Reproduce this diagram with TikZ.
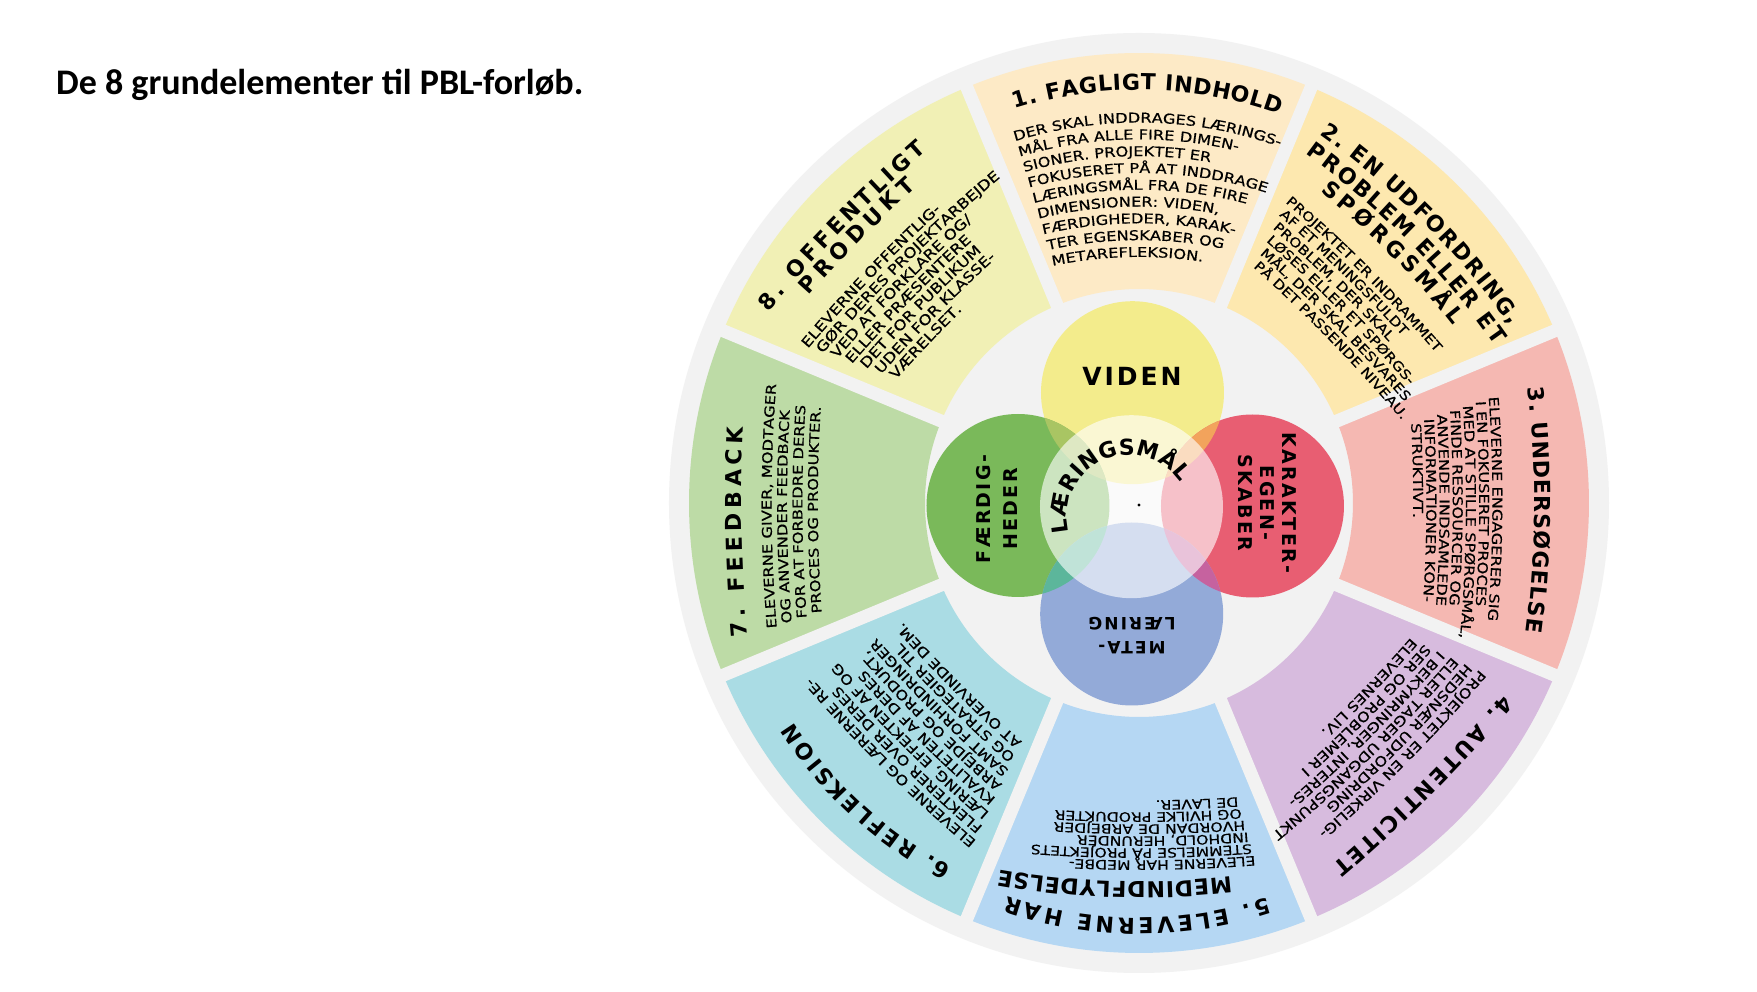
\documentclass[tikz,border=0pt]{standalone}
\usepackage{fontspec}
\usetikzlibrary{decorations.text}
\newfontfamily\headf{Carlito}
\newfontfamily\titlef{DejaVu Sans}
\newfontfamily\bodyf{DejaVu Sans}[FakeStretch=1.2,FakeBold=0.6]
\newfontfamily\circf{DejaVu Sans}[LetterSpace=12]
\definecolor{bggray}{HTML}{F2F2F2}
\definecolor{secA}{HTML}{FDEAC6}
\definecolor{secB}{HTML}{FDE8AF}
\definecolor{secC}{HTML}{F5B8B2}
\definecolor{secD}{HTML}{D7BBDE}
\definecolor{secE}{HTML}{B5D7F3}
\definecolor{secF}{HTML}{AADCE4}
\definecolor{secG}{HTML}{BDDBA6}
\definecolor{secH}{HTML}{F1F0B5}
\definecolor{cyel}{HTML}{F3EC8C}
\definecolor{cgrn}{HTML}{7AB95A}
\definecolor{cred}{HTML}{E85E72}
\definecolor{cblu}{HTML}{93AAD8}
\definecolor{cyg}{HTML}{A9C563}
\definecolor{cyr}{HTML}{F2A35C}
\definecolor{cgb}{HTML}{5CB69B}
\definecolor{crb}{HTML}{C6629F}
\newcommand\titlefmt{\titlef\bfseries\fontsize{22}{26}\selectfont}
% #1 curvature radius, #2 radius at middle, #3 start t, #4 end t, #5 align, #6 text
\newcommand\arcline[6]{%
  \pgfmathsetmacro\phA{acos((#3)/(#1))}%
  \pgfmathsetmacro\phB{acos((#4)/(#1))}%
  \pgfmathsetmacro\yA{(#2)-(#1)+(#1)*sin(\phA)}%
  \path[decorate,decoration={text along path,text align={#5},text={#6}}]
    (#3,\yA) arc[start angle=\phA,end angle=\phB,radius=#1pt];%
}
\newcommand\bodyline[2]{%
  \pgfmathsetmacro\myR{\sRz-\sDr*(#1)}%
  \pgfmathsetmacro\myT{\sTz+\sDt*(#1)}%
  \ifdim\sRc pt<1pt\let\myC\myR\else\let\myC\sRc\fi
  \arcline{\myC}{\myR}{\myT}{\myT+330}{left}{|\curfmt|#2}%
}
\begin{document}
\begin{tikzpicture}[x=1pt,y=1pt,
  circtxt/.style={inner sep=0pt, align=center}]
\useasboundingbox (-1139,-489) rectangle (618,503);
\fill[white] (-1139,-489) rectangle (618,503);
\node[anchor=base west, inner sep=0pt, font=\headf\bfseries\fontsize{36}{40}\selectfont] (title) at (-1083,408) {De 8 grundelementer til PBL-forløb.};
% wheel
\fill[bggray] (0,0) circle[radius=470pt];
\foreach \a/\c in {90/secA,45/secB,0/secC,-45/secD,-90/secE,-135/secF,180/secG,135/secH}{
  \fill[\c] ({\a-22.5}:214pt) arc[start angle={\a-22.5}, end angle={\a+22.5}, radius=214pt]
     -- ({\a+22.5}:450pt) arc[start angle={\a+22.5}, end angle={\a-22.5}, radius=450pt] -- cycle;
}
\foreach \a in {22.5,67.5,...,337.5}{\draw[bggray, line width=13pt] (\a:200pt) -- (\a:462pt);}
% circles
\coordinate (cY) at (-6.5,110.3);
\coordinate (cG) at (-121,-2.5);
\coordinate (cR) at (113.5,-3);
\coordinate (cB) at (-7.3,-111);
\coordinate (cC) at (-7.5,-3.7);
\fill[cyel] (cY) circle[radius=91.5pt];
\fill[cgrn] (cG) circle[radius=91.5pt];
\fill[cred] (cR) circle[radius=91.5pt];
\fill[cblu] (cB) circle[radius=91.5pt];
\begin{scope}
  \clip (cY) circle[radius=91.5pt];
  \fill[cyg] (cG) circle[radius=91.5pt];
  \fill[cyr] (cR) circle[radius=91.5pt];
\end{scope}
\begin{scope}
  \clip (cB) circle[radius=91.5pt];
  \fill[cgb] (cG) circle[radius=91.5pt];
  \fill[crb] (cR) circle[radius=91.5pt];
\end{scope}
\fill[white, fill opacity=0.62] (cC) circle[radius=91.5pt];
\node[circtxt, font=\circf\bfseries\fontsize{25}{28}\selectfont] (viden) at (-7,127) {VIDEN};
\node[circtxt, rotate=90, font=\circf\bfseries\fontsize{19}{27}\selectfont] (faerd) at (-142,-6) {FÆRDIG-\\HEDER};
\node[circtxt, rotate=-90, font=\circf\bfseries\fontsize{19}{22}\selectfont] (karak) at (128,0) {KARAKTER-\\EGEN-\\SKABER};
\node[circtxt, rotate=180, font=\circf\bfseries\fontsize{17}{24}\selectfont] (meta) at (-7,-133) {META-\\LÆRING};
\path[decorate, decoration={text along path, text align={fit to path}, text={|\titlef\bfseries\fontsize{22}{22}\selectfont|LÆRINGSMÅL}}]
  ([shift={(-10,-14)}]194:62pt) arc[start angle=194, end angle=34, radius=62pt];
\fill (0,-2) circle[radius=1.6pt];
% sector 1
\begin{scope}
\arcline{415}{413}{-124}{141}{fit to path}{|\titlefmt|1. FAGLIGT INDHOLD}
\def\sRc{420}\def\sRz{380.5}\def\sDr{16.8}\def\sTz{-124}\def\sDt{4.7}
\def\curfmt{\bodyf\fontsize{13.5}{16}\selectfont}
\bodyline{0}{DER SKAL INDDRAGES LÆRINGS-}
\bodyline{1}{MÅL FRA ALLE FIRE DIMEN-}
\bodyline{2}{SIONER. PROJEKTET ER}
\bodyline{3}{FOKUSERET PÅ AT INDDRAGE}
\bodyline{4}{LÆRINGSMÅL FRA DE FIRE}
\bodyline{5}{DIMENSIONER: VIDEN,}
\bodyline{6}{FÆRDIGHEDER, KARAK-}
\bodyline{7}{TER EGENSKABER OG}
\bodyline{8}{METAREFLEKSION.}
\end{scope}
% sector 2
\begin{scope}[rotate=-45]
\arcline{800}{399.5}{-133}{137}{fit to path}{|\titlefmt|2. EN UDFORDRING,}
\arcline{800}{375.5}{-129}{140}{fit to path}{|\titlefmt|PROBLEM ELLER ET}
\arcline{800}{353.5}{-92}{97}{fit to path}{|\titlefmt|SPØRGSMÅL}
\def\sRc{1500}\def\sRz{320}\def\sDr{14}\def\sTz{-109}\def\sDt{4.6}
\def\curfmt{\bodyf\fontsize{13}{16}\selectfont}
\bodyline{0}{PROJEKTET ER INDRAMMET}
\bodyline{1}{AF ET MENINGSFULDT}
\bodyline{2}{PROBLEM, DER SKAL}
\bodyline{3}{LØSES ELLER ET SPØRGS-}
\bodyline{4}{MÅL, DER SKAL BESVARES}
\bodyline{5}{PÅ DET PASSENDE NIVEAU.}
\end{scope}
% sector 3
\begin{scope}[rotate=-90]
\arcline{1000}{395.5}{-115}{129}{fit to path}{|\titlefmt|3. UNDERSØGELSE}
\def\sRc{1500}\def\sRz{353.5}\def\sDr{13.2}\def\sTz{-106}\def\sDt{4.4}
\def\curfmt{\bodyf\fontsize{13.5}{16}\selectfont}
\bodyline{0}{ELEVERNE ENGAGERER SIG}
\bodyline{1}{I EN FOKUSERET PROCES}
\bodyline{2}{MED AT STILLE SPØRGSMÅL,}
\bodyline{3}{FINDE RESSOURCER OG}
\bodyline{4}{ANVENDE INDSAMLEDE}
\bodyline{5}{INFORMATIONER KON-}
\bodyline{6}{STRUKTIVT.}
\end{scope}
% sector 4
\begin{scope}[rotate=-135]
\arcline{1500}{397.5}{-122}{120}{fit to path}{|\titlefmt|4. AUTENTICITET}
\def\sRc{1500}\def\sRz{363.5}\def\sDr{14.6}\def\sTz{-123}\def\sDt{5.2}
\def\curfmt{\bodyf\fontsize{13.5}{16}\selectfont}
\bodyline{0}{PROJEKTET ER EN VIRKELIG-}
\bodyline{1}{HEDSNÆR UDFORDRING}
\bodyline{2}{ELLER TAGER UDGANGSPUNKT}
\bodyline{3}{I BEKYMRINGER, INTERES-}
\bodyline{4}{SER OG PROBLEMER I}
\bodyline{5}{ELEVERNES LIV.}
\end{scope}
% sector 5
\begin{scope}[rotate=180]
\arcline{415}{415}{-128}{132}{fit to path}{|\titlefmt|5. ELEVERNE HAR}
\arcline{800}{379}{-92}{140}{fit to path}{|\titlefmt|MEDINDFLYDELSE}
\def\sRc{1500}\def\sRz{357.5}\def\sDr{12}\def\sTz{-116}\def\sDt{3.4}
\def\curfmt{\bodyf\fontsize{13}{16}\selectfont}
\bodyline{0}{ELEVERNE HAR MEDBE-}
\bodyline{1}{STEMMELSE PÅ PROJEKTETS}
\bodyline{2}{INDHOLD, HERUNDER}
\bodyline{3}{HVORDAN DE ARBEJDER}
\bodyline{4}{OG HVILKE PRODUKTER}
\bodyline{5}{DE LAVER.}
\end{scope}
% sector 6
\begin{scope}[rotate=135]
\arcline{410}{409}{-125}{89}{fit to path}{|\titlefmt|6. REFLEKSION}
\def\sRc{1500}\def\sRz{359}\def\sDr{15}\def\sTz{-124}\def\sDt{5.4}
\def\curfmt{\bodyf\fontsize{13.5}{16}\selectfont}
\bodyline{0}{ELEVERNE OG LÆRERNE RE-}
\bodyline{1}{FLEKTERER OVER DERES}
\bodyline{2}{LÆRING, EFFEKTEN AF OG}
\bodyline{3}{KVALITETEN AF DERES}
\bodyline{4}{ARBEJDE OG PRODUKT,}
\bodyline{5}{SAMT FORHINDRINGER}
\bodyline{6}{OG STRATEGIER TIL}
\bodyline{7}{AT OVERVINDE DEM.}
\end{scope}
% sector 7
\begin{scope}[rotate=90]
\arcline{1500}{397.5}{-134}{76}{fit to path}{|\titlefmt|7. FEEDBACK}
\def\sRc{1500}\def\sRz{367.5}\def\sDr{15.4}\def\sTz{-125}\def\sDt{5}
\def\curfmt{\bodyf\fontsize{13.5}{16}\selectfont}
\bodyline{0}{ELEVERNE GIVER, MODTAGER}
\bodyline{1}{OG ANVENDER FEEDBACK}
\bodyline{2}{FOR AT FORBEDRE DERES}
\bodyline{3}{PROCES OG PRODUKTER.}
\end{scope}
% sector 8
\begin{scope}[rotate=45]
\arcline{1500}{402.5}{-127}{99}{fit to path}{|\titlefmt|8. OFFENTLIGT}
\arcline{1500}{382.5}{-87}{66}{fit to path}{|\titlefmt|PRODUKT}
\def\sRc{1500}\def\sRz{348.5}\def\sDr{14.5}\def\sTz{-125}\def\sDt{6.7}
\def\curfmt{\bodyf\fontsize{14}{17}\selectfont}
\bodyline{0}{ELEVERNE OFFENTLIG-}
\bodyline{1}{GØR DERES PROJEKTARBEJDE}
\bodyline{2}{VED AT FORKLARE OG/}
\bodyline{3}{ELLER PRÆSENTERE}
\bodyline{4}{DET FOR PUBLIKUM}
\bodyline{5}{UDEN FOR KLASSE-}
\bodyline{6}{VÆRELSET.}
\end{scope}
\end{tikzpicture}
\end{document}
